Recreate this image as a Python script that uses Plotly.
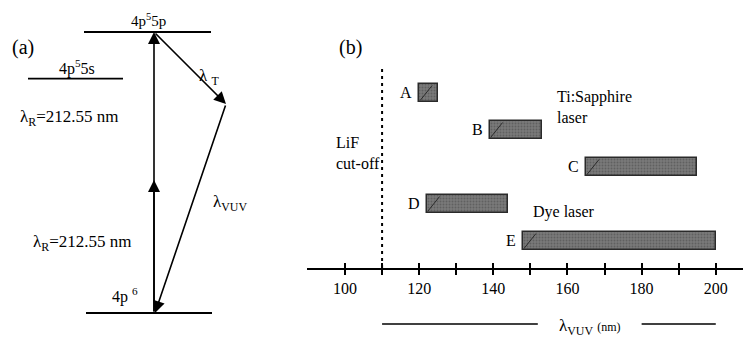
import plotly.graph_objects as go

W, H = 751, 349
OFF = 8                      # default page body margin
FW, FH = W - OFF, H - OFF    # figure size
def px(x): return (x - OFF) / FW
def py(y): return 1 - (y - OFF) / FH

# ---------------- data: panel (b) ----------------
labels = ["A", "B", "C", "D", "E"]
starts = [120, 139, 165, 122, 148]        # nm
ends = [125, 153, 195, 144, 200]          # nm
rows = [5, 4, 3, 2, 1]
lif_cutoff = 110
tick_vals = [100, 110, 120, 130, 140, 150, 160, 170, 180, 190, 200]
tick_text = ["100", "", "120", "", "140", "", "160", "", "180", "", "200"]
title_seg1 = [110, 152]
title_seg2 = [180, 200]

# ---------------- data: panel (a) (energy in eV, schematic) ----------------
level_names = ["4p⁶", "4p⁵5s", "4p⁵5p"]
level_energy = [0.0, 9.73, 11.666]
level_x0 = [86, 28, 84]
level_x1 = [212, 123, 211]
pump_x = 154
virtual_x = 226
virtual_energy = 8.677
mid_energy = 5.52

FONT = "Liberation Serif"
fig = go.Figure()

# bars
widths = [e - s for s, e in zip(starts, ends)]
fig.add_trace(go.Bar(
    orientation="h", y=rows, x=widths, base=starts, width=0.49,
    marker=dict(color="#707070", line=dict(color="#2a2a2a", width=1.5),
                pattern=dict(shape=".", fgcolor="#454545", bgcolor="#7a7a7a", size=3, solidity=0.35)),
    xaxis="x", yaxis="y", showlegend=False, hoverinfo="skip"))
# invisible trace for overlay axis
fig.add_trace(go.Scatter(x=[100], y=[1], mode="markers", marker=dict(opacity=0),
                         xaxis="x2", yaxis="y", showlegend=False, hoverinfo="skip"))

# diagonal strokes at bar starts
for s, e, r in zip(starts, ends, rows):
    fig.add_shape(type="line", xref="x", yref="y",
                  x0=s + 0.3, y0=r - 0.2, x1=s + min(3.5, (e - s) - 0.4), y1=r + 0.2,
                  line=dict(color="#2a2a2a", width=1))

# letter labels
for lab, s, r in zip(labels, starts, rows):
    fig.add_annotation(x=s, y=r, xref="x", yref="y", text=lab, showarrow=False,
                       xanchor="right", xshift=-5, font=dict(family=FONT, size=16, color="black"))

# LiF cut-off dotted line
fig.add_shape(type="line", xref="x", yref="y", x0=lif_cutoff, x1=lif_cutoff, y0=0.27, y1=5.68,
              line=dict(color="black", width=2, dash="3px,4px"))

# title segments
for seg in (title_seg1, title_seg2):
    fig.add_shape(type="line", xref="x", yref="paper", x0=seg[0], x1=seg[1],
                  y0=py(324), y1=py(324), line=dict(color="black", width=1.5))

# panel (a) levels
for name, en, x0, x1 in zip(level_names, level_energy, level_x0, level_x1):
    fig.add_trace(go.Scatter(x=[x0, x1], y=[en, en], mode="lines",
                             line=dict(color="black", width=1.8),
                             xaxis="x3", yaxis="y3", showlegend=False, hoverinfo="skip"))

def arrow(xh, yh, xt, yt):
    fig.add_annotation(x=xh, y=yh, ax=xt, ay=yt, xref="x3", yref="y3", axref="x3", ayref="y3",
                       text="", showarrow=True, arrowhead=2, arrowsize=1.5, arrowwidth=1.6,
                       arrowcolor="black", standoff=0, startstandoff=0)

arrow(pump_x, level_energy[2], pump_x, level_energy[0])
arrow(pump_x, mid_energy, pump_x, level_energy[0])
arrow(virtual_x, virtual_energy, pump_x, level_energy[2])
arrow(pump_x + 1, level_energy[0], virtual_x, virtual_energy)

def txt(x, y, t, size=16, xanchor="center", align="left"):
    fig.add_annotation(x=px(x), y=py(y), xref="paper", yref="paper", text=t, showarrow=False,
                       xanchor=xanchor, yanchor="middle", align=align,
                       font=dict(family=FONT, size=size, color="black"))

txt(23, 47, "(a)", 20)
txt(148, 20, "4p<sup>5</sup>5p", 15)
txt(77, 67, "4p<sup>5</sup>5s", 16)
txt(18, 118, "λ<sub>R</sub>=212.55 nm", 17, "left")
txt(31, 243, "λ<sub>R</sub>=212.55 nm", 17, "left")
txt(197, 77, "λ <sub>T</sub>", 17, "left")
txt(211, 203, "λ<sub>VUV</sub>", 17, "left")
txt(110, 295, "4p <sup>6</sup>", 16, "left")

txt(350, 47, "(b)", 20)
txt(555, 107, "Ti:Sapphire<br>laser", 16, "left")
txt(334, 153, "LiF<br>cut-off", 16, "left")
txt(531, 212, "Dye laser", 16, "left")
txt(590, 327, "λ<sub>VUV</sub> <span style='font-size:12px'>(nm)</span>", 17)

# axis ranges derived from pixel calibration of the reference
x_range = [89.75, 209.5]
px_per_ev = 281 / level_energy[2]
y3_range = [-(H - 313) / px_per_ev, (313 - OFF) / px_per_ev]

fig.update_layout(
    width=FW, height=FH, autosize=False,
    margin=dict(l=0, r=0, t=0, b=0),
    paper_bgcolor="white", plot_bgcolor="white",
    font=dict(family=FONT, size=16, color="black"),
    xaxis=dict(domain=[px(307), 1.0], range=x_range, anchor="y",
               showline=True, linecolor="black", linewidth=1.5, showgrid=False, zeroline=False,
               ticks="outside", ticklen=5, tickwidth=1.5, tickcolor="black",
               tickvals=tick_vals, ticktext=tick_text, tickfont=dict(family=FONT, size=16)),
    xaxis2=dict(overlaying="x", matches="x", anchor="y", range=x_range,
                showline=False, showgrid=False, zeroline=False,
                ticks="inside", ticklen=5, tickwidth=1.5, tickcolor="black",
                tickvals=tick_vals, showticklabels=False),
    yaxis=dict(domain=[py(268), 1.0], range=[0.27, 7.51 - OFF / 37], visible=False),
    xaxis3=dict(domain=[0, px(300)], range=[OFF, 300], visible=False, anchor="y3"),
    yaxis3=dict(domain=[0, 1], range=y3_range, visible=False, anchor="x3"),
    bargap=0,
)

fig.write_html("out.html")
